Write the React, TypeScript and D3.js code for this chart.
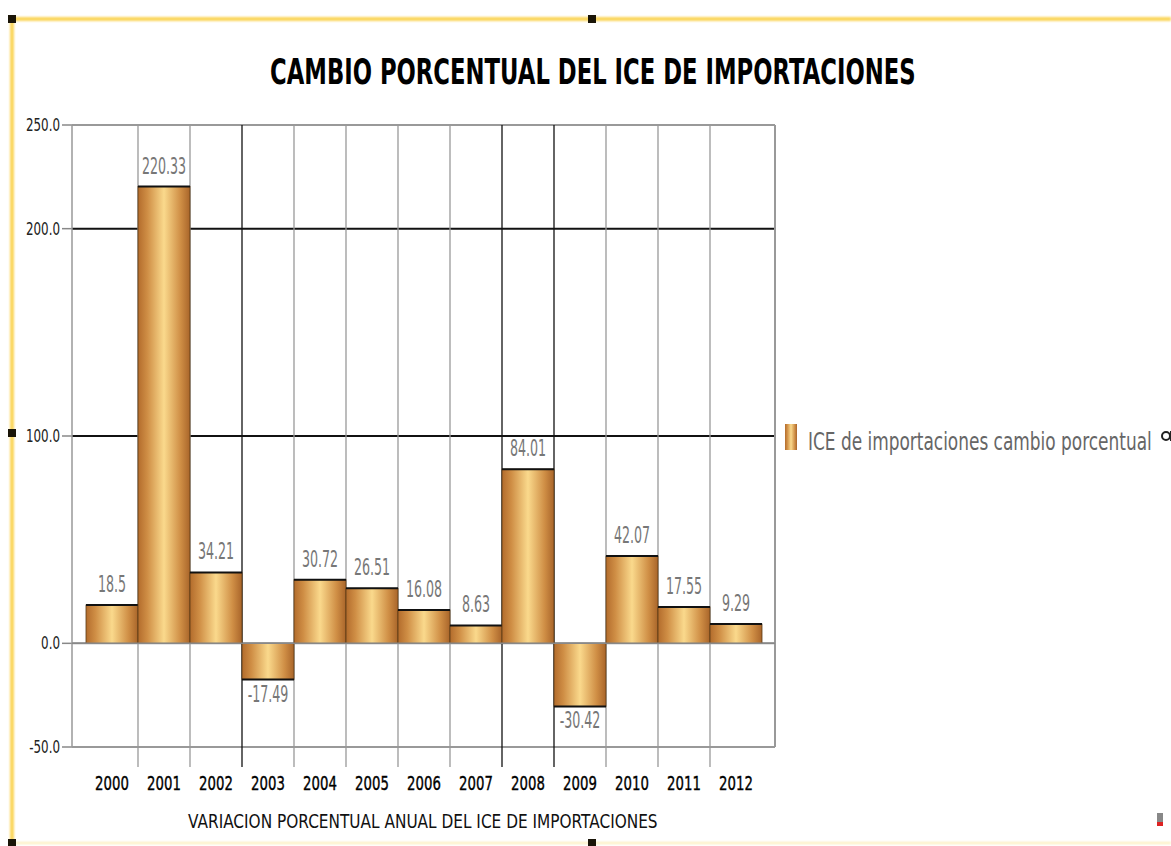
import React, { useLayoutEffect, useRef, useState } from "react";
import * as d3 from "d3";

const years = ["2000","2001","2002","2003","2004","2005","2006","2007","2008","2009","2010","2011","2012"];
const values = [18.5, 220.33, 34.21, -17.49, 30.72, 26.51, 16.08, 8.63, 84.01, -30.42, 42.07, 17.55, 9.29];
const yTicks = [250, 200, 100, 0, -50];
const darkGridTicks = [200, 100];
const darkBoundaries = [3, 8, 9];
const title = "CAMBIO PORCENTUAL DEL ICE DE IMPORTACIONES";
const xAxisTitle = "VARIACION PORCENTUAL ANUAL DEL ICE DE IMPORTACIONES";
const legendLabel = "ICE de importaciones cambio porcentual";

const W = 1171, H = 846;
const plotL = 72, plotR = 775, plotT = 125, plotB = 747;

function FitText(props: { x: number; y: number; width: number; fontSize: number; fill: string; fontWeight?: string; children: string }) {
  const ref = useRef<SVGTextElement>(null);
  const [sx, setSx] = useState(1);
  useLayoutEffect(() => {
    if (ref.current) {
      const w = ref.current.getComputedTextLength();
      if (w > 0) setSx(props.width / w);
    }
  }, [props.width, props.children, props.fontSize]);
  return (
    <text ref={ref} transform={`translate(${props.x},${props.y}) scale(${sx},1)`} fontSize={props.fontSize}
      fill={props.fill} fontWeight={props.fontWeight}>
      {props.children}
    </text>
  );
}

export default function App() {
  const x = d3.scaleBand<string>().domain(years).range([86, 762]).padding(0);
  const y = d3.scaleLinear().domain([-50, 250]).range([plotB, plotT]);
  const bw = x.bandwidth();
  const font = "'DejaVu Sans', Verdana, sans-serif";

  return (
    <svg width={W} height={H} style={{ position: "absolute", left: 0, top: 0, background: "#fff" }} fontFamily={font}>
      <defs>
        <linearGradient id="barGrad" x1="0" x2="1" y1="0" y2="0">
          <stop offset="0%" stopColor="#b36c2c" />
          <stop offset="18%" stopColor="#cf8e45" />
          <stop offset="50%" stopColor="#fad98c" />
          <stop offset="82%" stopColor="#cf8e45" />
          <stop offset="100%" stopColor="#a9652a" />
        </linearGradient>
        <filter id="blur" x="-5%" y="-5%" width="110%" height="110%">
          <feGaussianBlur stdDeviation="1" />
        </filter>
      </defs>

      {/* frame */}
      <g filter="url(#blur)">
        <line x1={12} x2={W} y1={19} y2={19} stroke="#fbd55a" strokeWidth={4} />
        <line x1={12} x2={12} y1={19} y2={H} stroke="#fbd55a" strokeWidth={4} />
        <line x1={12} x2={W} y1={843} y2={843} stroke="#fdeeb8" strokeWidth={2} />
      </g>
      {[[12, 19], [592, 19], [12, 433], [12, 843], [592, 843]].map(([hx, hy], i) => (
        <rect key={i} x={hx - 4} y={hy - 4} width={8} height={8} fill="#1a1508" />
      ))}

      {/* title */}
      <FitText x={270} y={84} width={646} fontSize={36} fontWeight="bold" fill="#000">{title}</FitText>

      {/* horizontal grid */}
      {yTicks.map((t) => (
        <g key={t}>
          <line x1={plotL} x2={plotR} y1={y(t)} y2={y(t)}
            stroke={darkGridTicks.includes(t) ? "#111" : "#999"} strokeWidth={2} />
          <line x1={plotL - 10} x2={plotL} y1={y(t)} y2={y(t)} stroke="#888" strokeWidth={1.5} />
          <text transform={`translate(${plotL - 12},${y(t) + 6}) scale(0.7,1)`} textAnchor="end" fontSize={17} fill="#222">
            {t.toFixed(1)}
          </text>
        </g>
      ))}

      {/* vertical grid */}
      <line x1={plotL} x2={plotL} y1={plotT} y2={plotB} stroke="#999" strokeWidth={1.5} />
      <line x1={plotR} x2={plotR} y1={plotT} y2={plotB} stroke="#999" strokeWidth={2} />
      {years.slice(1).map((yr, i) => {
        const bx = x(yr)!;
        const dark = darkBoundaries.includes(i + 1);
        return <line key={yr} x1={bx} x2={bx} y1={plotT} y2={767} stroke={dark ? "#111" : "#999"} strokeWidth={1.3} />;
      })}

      {/* bars */}
      {years.map((yr, i) => {
        const v = values[i];
        const x0 = x(yr)!;
        const top = y(Math.max(v, 0));
        const bot = y(Math.min(v, 0));
        const edgeY = v >= 0 ? top : bot;
        return (
          <g key={yr}>
            <rect x={x0} y={top} width={bw} height={bot - top} fill="url(#barGrad)" stroke="#5a3b15" strokeWidth={0.8} />
            <line x1={x0} x2={x0 + bw} y1={edgeY} y2={edgeY} stroke="#111" strokeWidth={2} />
            <text transform={`translate(${x0 + bw / 2},${v >= 0 ? top - 13 : bot + 22}) scale(0.55,1)`}
              textAnchor="middle" fontSize={23} fill="#777">
              {String(v)}
            </text>
          </g>
        );
      })}
      <line x1={plotL} x2={plotR} y1={y(0)} y2={y(0)} stroke="#888" strokeWidth={1.5} />

      {/* x labels */}
      {years.map((yr) => (
        <text key={yr} transform={`translate(${x(yr)! + bw / 2},790) scale(0.7,1)`} textAnchor="middle" fontSize={19}
          fill="#000" stroke="#000" strokeWidth={0.4}>
          {yr}
        </text>
      ))}
      <FitText x={188} y={828} width={470} fontSize={19} fill="#111">{xAxisTitle}</FitText>

      {/* legend */}
      <rect x={785} y={424} width={12} height={26} fill="url(#barGrad)" />
      <FitText x={808} y={450} width={344} fontSize={24} fill="#666">{legendLabel}</FitText>
      <g transform="translate(1166,436)">
        <circle r={4} fill="none" stroke="#222" strokeWidth={2} />
        <rect x={4} y={-5} width={2} height={10} fill="#222" />
      </g>

      {/* small icon */}
      <rect x={1157} y={813} width={6} height={12} fill="#888" />
      <rect x={1157} y={822} width={6} height={4} fill="#d22" />
    </svg>
  );
}
